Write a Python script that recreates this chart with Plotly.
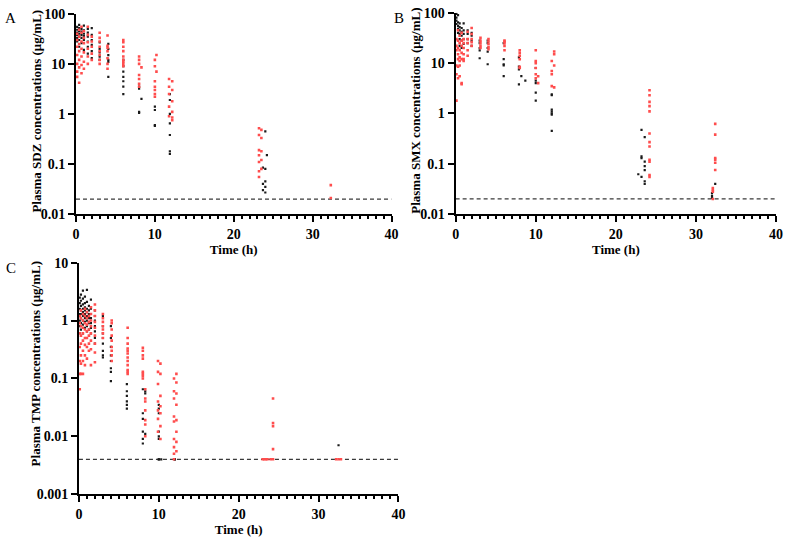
import plotly.graph_objects as go

# ---------------- data: (sampling time h, [concentrations µg/mL]) ----------------
SDZ_BLACK = [
    (0.15, [55, 48, 42, 38, 33, 28]),
    (0.4, [60, 52, 45, 40, 35, 30, 22]),
    (0.7, [50, 44, 38, 33, 26]),
    (1.0, [58, 47, 40, 36, 30, 19]),
    (1.5, [50, 42, 35, 28, 22, 16]),
    (2.0, [52, 38, 30, 24, 18, 13]),
    (3.0, [27, 20, 17, 14, 12]),
    (4.1, [25, 20, 15, 12, 11, 5.5]),
    (6.0, [12, 9, 7, 5.5, 4.5, 3.5, 2.5]),
    (8.0, [3.5, 3.2, 1.1, 1.05]),
    (8.3, [2.0]),
    (10.0, [1.4, 1.2, 0.6, 0.58]),
    (11.9, [2.5, 1.9, 1.0, 0.65, 0.38, 0.18, 0.16]),
    (23.7, [0.085, 0.04, 0.03]),
    (24.0, [0.45, 0.08, 0.045, 0.035, 0.027]),
    (24.2, [0.15]),
]
SDZ_RED = [
    (0.15, [40, 30, 22, 15, 10, 7, 5.5]),
    (0.4, [48, 35, 25, 18, 12, 8.5, 4.2]),
    (0.7, [55, 42, 28, 20, 14, 9.5, 6.5]),
    (1.0, [45, 33, 26, 17, 11, 8]),
    (1.5, [55, 38, 27, 20, 14, 10]),
    (2.0, [35, 28, 22, 16, 12]),
    (3.0, [42, 33, 28, 22, 18, 15, 12, 10]),
    (4.0, [37, 23, 21, 18, 13, 10, 8]),
    (6.0, [30, 27, 22, 18, 14, 12, 11, 10, 9]),
    (8.0, [14, 12, 10, 6, 5, 4, 3.5]),
    (8.3, [8.5]),
    (10.0, [12, 9, 4.5, 3.5, 3, 2.5, 2.2]),
    (10.2, [15, 7]),
    (11.8, [5, 3.5, 2.5, 1.4, 0.9]),
    (12.2, [4.5, 3, 1.8, 1.1, 0.85, 0.75]),
    (23.2, [0.52, 0.38, 0.19, 0.15, 0.11, 0.072, 0.055]),
    (23.5, [0.48, 0.33, 0.18, 0.12, 0.08]),
    (32.3, [0.038, 0.021]),
]

SMX_BLACK = [
    (0.1, [95, 80, 70, 60]),
    (0.3, [90, 65, 55, 48, 40]),
    (0.5, [62, 52, 45, 38, 30, 22]),
    (0.75, [50, 42, 35, 28, 20]),
    (1.0, [62, 45, 38, 30, 24]),
    (1.5, [45, 38, 30, 25]),
    (2.0, [40, 35, 28, 22]),
    (3.0, [28, 25, 20, 18, 12.5]),
    (4.0, [28, 25, 20, 17, 9.5]),
    (6.0, [25, 12, 9.5, 9, 5.5]),
    (7.9, [13, 8.5, 7.5, 3.8]),
    (8.2, [5.5]),
    (8.7, [4.5]),
    (10.0, [8, 4.5, 4.0, 2.6, 1.8]),
    (12.0, [2.4, 2.3, 1.2, 1.1, 1.0, 0.95, 0.45]),
    (22.8, [0.062]),
    (23.2, [0.47, 0.14, 0.13, 0.055]),
    (23.6, [0.34, 0.11, 0.09, 0.075, 0.045, 0.04]),
    (32.0, [0.026, 0.023, 0.021]),
    (32.4, [0.04]),
]
SMX_RED = [
    (0.1, [30, 22, 18, 9, 6, 1.8]),
    (0.3, [45, 28, 20, 15, 12, 8.5, 5]),
    (0.5, [35, 25, 18, 13, 11, 9, 5.5]),
    (0.75, [40, 28, 22, 16, 12, 4, 3.8]),
    (1.0, [30, 25, 20, 15, 12, 11]),
    (1.5, [42, 30, 25, 18, 14]),
    (2.0, [50, 38, 30, 26, 22]),
    (3.1, [32, 28, 25, 22, 20]),
    (4.1, [30, 27, 24, 21, 19]),
    (6.1, [28, 27, 25, 22, 18]),
    (8.0, [18, 16, 14, 12, 8.5, 8]),
    (10.0, [18, 11, 10, 8, 6, 5]),
    (10.3, [5.5, 4]),
    (12.0, [11, 7, 6, 3.5]),
    (12.3, [17, 15, 9, 3.3]),
    (24.2, [2.9, 2.3, 1.7, 1.4, 1.1, 0.4, 0.27, 0.22, 0.12, 0.11, 0.06, 0.055]),
    (32.1, [0.033, 0.03, 0.028, 0.02]),
    (32.4, [0.62, 0.38, 0.13, 0.12, 0.105, 0.075]),
]

TMP_BLACK = [
    (0.1, [2.5, 2.0, 1.6, 1.3, 1.0, 0.8]),
    (0.25, [2.8, 2.2, 1.8, 1.5, 1.3, 1.1, 0.9, 0.7]),
    (0.5, [3.3, 2.4, 1.9, 1.6, 1.4, 1.2, 1.0, 0.85, 0.6]),
    (0.75, [2.6, 2.0, 1.7, 1.5, 1.3, 1.1, 0.95, 0.75]),
    (1.0, [3.4, 2.1, 1.6, 1.4, 1.2, 1.0, 0.8, 0.65]),
    (1.25, [1.8, 1.5, 1.3, 1.1, 0.9, 0.7]),
    (1.5, [2.3, 1.6, 1.3, 1.1, 0.9, 0.75, 0.6]),
    (2.0, [1.5, 1.2, 1.0, 0.8, 0.65, 0.5, 0.4]),
    (3.0, [1.2, 0.8, 0.6, 0.5, 0.4, 0.3, 0.25, 0.23]),
    (4.0, [0.8, 0.5, 0.35, 0.25, 0.2, 0.15, 0.13, 0.09]),
    (6.0, [0.08, 0.06, 0.05, 0.04, 0.035, 0.03]),
    (8.0, [0.065, 0.025, 0.02, 0.012, 0.009, 0.0075]),
    (8.3, [0.06, 0.055, 0.011]),
    (10.0, [0.035, 0.03, 0.025, 0.012, 0.01, 0.009, 0.004, 0.004]),
    (10.3, [0.004]),
    (12.0, [0.004, 0.004]),
    (32.5, [0.007]),
]
TMP_RED = [
    (0.1, [1.2, 0.9, 0.6, 0.35, 0.2, 0.12, 0.065]),
    (0.25, [1.5, 1.1, 0.8, 0.55, 0.4, 0.25, 0.18, 0.12]),
    (0.5, [1.3, 1.0, 0.75, 0.6, 0.45, 0.3, 0.2, 0.12]),
    (0.75, [1.6, 1.2, 0.9, 0.7, 0.5, 0.38, 0.25, 0.17]),
    (1.0, [1.4, 1.1, 0.85, 0.65, 0.5, 0.35, 0.22]),
    (1.25, [1.2, 0.95, 0.7, 0.55, 0.4, 0.3]),
    (1.5, [1.7, 1.3, 1.0, 0.8, 0.6, 0.45, 0.32, 0.17]),
    (2.0, [1.9, 1.5, 1.2, 0.95, 0.75, 0.55, 0.4, 0.28, 0.19]),
    (3.0, [1.3, 1.1, 0.95, 0.8, 0.7, 0.6, 0.5]),
    (4.1, [1.0, 0.9, 0.7, 0.55, 0.45, 0.35, 0.3, 0.25, 0.2]),
    (6.1, [0.75, 0.5, 0.4, 0.33, 0.3, 0.27, 0.23, 0.2, 0.17, 0.14, 0.13, 0.12]),
    (8.0, [0.34, 0.3, 0.25, 0.22, 0.13, 0.12, 0.11, 0.1]),
    (8.3, [0.065, 0.045, 0.04, 0.028, 0.019, 0.016, 0.01]),
    (9.9, [0.2, 0.13, 0.08, 0.04, 0.028, 0.02, 0.012]),
    (10.2, [0.18, 0.12, 0.05, 0.033, 0.025, 0.015, 0.009]),
    (11.9, [0.1, 0.06, 0.045, 0.022, 0.018, 0.009, 0.0065, 0.005, 0.004]),
    (12.2, [0.12, 0.085, 0.055, 0.035, 0.019, 0.012, 0.008, 0.0055]),
    (23.0, [0.004]), (23.2, [0.004]), (23.4, [0.004]), (23.6, [0.004]),
    (24.0, [0.004]),
    (24.3, [0.045, 0.017, 0.015, 0.006, 0.004]),
    (32.2, [0.004]), (32.5, [0.004]), (32.8, [0.004]),
]

LLOQ = {"A": 0.02, "B": 0.02, "C": 0.004}
X_TICKS = [0, 10, 20, 30, 40]
Y_TICKS_AB = [0.01, 0.1, 1, 10, 100]
Y_TICKS_C = [0.001, 0.01, 0.1, 1, 10]
Y_TEXT_AB = ["0.01", "0.1", "1", "10", "100"]
Y_TEXT_C = ["0.001", "0.01", "0.1", "1", "10"]

# ---------------- figure ----------------
W, H = 791, 542
FONT = "Liberation Serif"
BLACK_COL = "#1a1a1a"
RED_COL = "#ff4d4d"


def expand(groups):
    xs, ys = [], []
    for t, vals in groups:
        for v in vals:
            xs.append(t)
            ys.append(v)
    return xs, ys


def px_x(p):
    return p / W


def px_y(p):
    return 1 - p / H


fig = go.Figure()

panels = [
    ("A", SDZ_BLACK, SDZ_RED, "x", "y", (73, 393), (7, 213), Y_TICKS_AB, Y_TEXT_AB, [-2, 2],
     "Plasma SDZ concentrations (μg/mL)"),
    ("B", SMX_BLACK, SMX_RED, "x2", "y2", (458, 783), (6, 213), Y_TICKS_AB, Y_TEXT_AB, [-2, 2],
     "Plasma SMX concentrations (μg/mL)"),
    ("C", TMP_BLACK, TMP_RED, "x3", "y3", (76, 400), (263, 501), Y_TICKS_C, Y_TEXT_C, [-3, 1],
     "Plasma TMP concentrations (μg/mL)"),
]

title_font = dict(family=FONT, size=13, color="black", weight="bold")
tick_font = dict(family=FONT, size=14, color="black", weight="bold")

for key, blk, red, xa, ya, (x0, x1), (y0, y1), yt, ytt, yr, ytitle in panels:
    fig.add_trace(go.Scatter(
        x=[X_TICKS[0], X_TICKS[-1]], y=[LLOQ[key]] * 2, mode="lines",
        line=dict(color="#3a3a3a", width=1.2, dash="4px,3px"),
        xaxis=xa, yaxis=ya, showlegend=False, hoverinfo="skip"))
    bx, by = expand(blk)
    rx, ry = expand(red)
    fig.add_trace(go.Scatter(
        x=bx, y=by, mode="markers",
        marker=dict(symbol="square", size=2.2, color=BLACK_COL, line=dict(width=0)),
        xaxis=xa, yaxis=ya, showlegend=False))
    fig.add_trace(go.Scatter(
        x=rx, y=ry, mode="markers",
        marker=dict(symbol="square", size=2.6, color=RED_COL, line=dict(width=0)),
        xaxis=xa, yaxis=ya, showlegend=False))

    xname = "xaxis" if xa == "x" else "xaxis" + xa[1:]
    yname = "yaxis" if ya == "y" else "yaxis" + ya[1:]
    fig.layout[xname] = dict(
        domain=[px_x(x0), px_x(x1)], anchor=ya, range=[0, 40],
        tickvals=X_TICKS, ticks="outside", ticklen=6, tickwidth=2, tickcolor="black",
        showline=True, linewidth=2, linecolor="black", showgrid=False, zeroline=False,
        tickfont=tick_font,
        minor=dict(ticks="outside", dtick=1, tick0=0, ticklen=3, tickwidth=1.5,
                   tickcolor="black", showgrid=False),
        title=dict(text="Time (h)", font=title_font, standoff=4))
    fig.layout[yname] = dict(
        domain=[px_y(y1), px_y(y0)], anchor=xa, type="log", range=yr,
        tickvals=yt, ticktext=ytt, ticks="outside", ticklen=6, tickwidth=2,
        tickcolor="black", showline=True, linewidth=2, linecolor="black",
        showgrid=False, zeroline=False, tickfont=tick_font)
    ymid = (y0 + y1) / 2 - 3 if key != "C" else 367
    xtitle = 32 if key != "B" else 417
    fig.add_annotation(
        x=px_x(xtitle), y=px_y(ymid), xref="paper", yref="paper",
        text=ytitle, textangle=-90, showarrow=False,
        font=title_font, xanchor="center", yanchor="middle")

for letter, lx, ly in [("A", 7, 11), ("B", 401, 11), ("C", 7, 268)]:
    fig.add_annotation(
        x=px_x(lx), y=px_y(ly), xref="paper", yref="paper", text=letter,
        showarrow=False, font=dict(family=FONT, size=15, color="black"),
        xanchor="center", yanchor="middle")

fig.update_layout(
    width=W, height=H, margin=dict(l=0, r=0, t=0, b=0),
    paper_bgcolor="white", plot_bgcolor="white", showlegend=False)

fig.write_html("out.html")
